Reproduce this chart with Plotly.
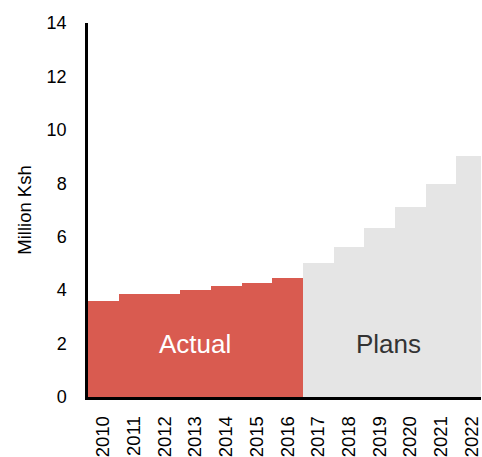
import plotly.graph_objects as go

years = ["2010", "2011", "2012", "2013", "2014", "2015", "2016",
         "2017", "2018", "2019", "2020", "2021", "2022"]
actual_years = years[:7]
actual_values = [3.6, 3.84, 3.84, 4.01, 4.16, 4.27, 4.45]
plan_years = years[7:]
plan_values = [5.0, 5.62, 6.32, 7.1, 7.98, 9.02]

fig = go.Figure()
fig.add_trace(go.Bar(x=actual_years, y=actual_values, marker=dict(color="#D95B50", line=dict(width=0)),
                     width=1.0, showlegend=False, hoverinfo="skip"))
fig.add_trace(go.Bar(x=plan_years, y=plan_values, marker=dict(color="#E5E5E5", line=dict(width=0)),
                     width=1.0, showlegend=False, hoverinfo="skip"))

font_family = "Liberation Sans, Arial, sans-serif"
fig.add_annotation(x=3, y=2, text="Actual", showarrow=False,
                   font=dict(family=font_family, size=26, color="white"))
fig.add_annotation(x=9.3, y=2, text="Plans", showarrow=False,
                   font=dict(family=font_family, size=26, color="#333333"))

fig.update_layout(
    width=482, height=457,
    margin=dict(l=88, r=0, t=23, b=57),
    paper_bgcolor="white", plot_bgcolor="white",
    bargap=0,
    font=dict(family=font_family, size=18, color="black"),
)
fig.update_xaxes(
    type="category", categoryorder="array", categoryarray=years,
    range=[-0.5, 12.3], tickangle=-90, showgrid=False, ticks="",
    showline=True, linecolor="black", linewidth=2.5,
    tickfont=dict(family=font_family, size=18.5, color="black"),
    ticklabelstandoff=9,
)
fig.update_yaxes(
    range=[0, 14], dtick=2, showgrid=False, zeroline=False, ticks="",
    showline=True, linecolor="black", linewidth=2.5,
    tickfont=dict(family=font_family, size=18, color="black"),
    ticklabelstandoff=15,
    title=dict(text="Million Ksh", font=dict(family=font_family, size=18.5, color="black"), standoff=11),
)

fig.write_html("out.html", config={"displayModeBar": False},
               post_script="document.body.style.margin='0';document.body.style.padding='0';")
